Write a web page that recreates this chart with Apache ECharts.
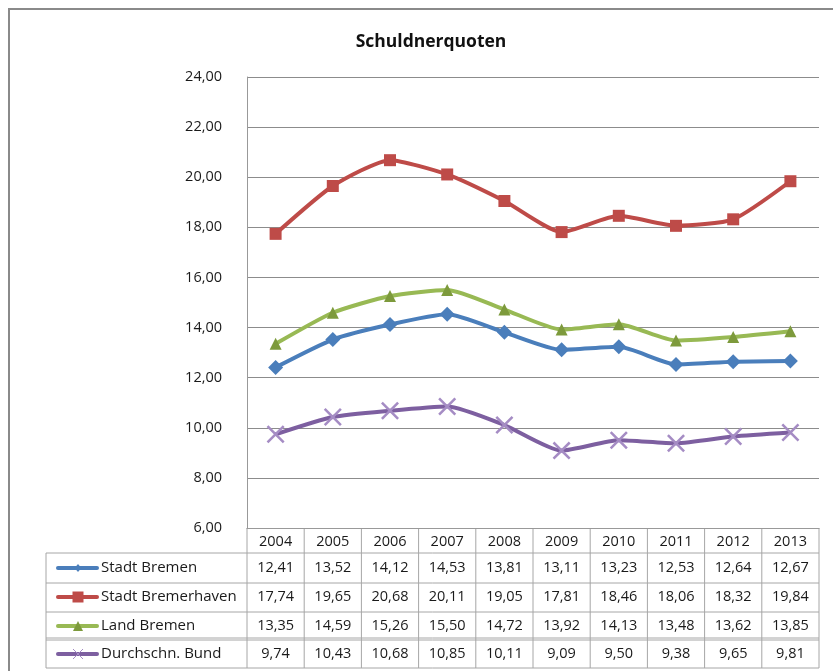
<!DOCTYPE html>
<html>
<head>
<meta charset="utf-8">
<script src="https://cdn.jsdelivr.net/npm/echarts@6/dist/echarts.min.js"></script>
<style>
  html, body { margin: 0; padding: 0; background: #fff; }
  #chart { width: 833px; height: 671px; }
</style>
</head>
<body>
<div id="chart"></div>
<script>
const years = ['2004', '2005', '2006', '2007', '2008', '2009', '2010', '2011', '2012', '2013']
const stadtBremen = [12.41, 13.52, 14.12, 14.53, 13.81, 13.11, 13.23, 12.53, 12.64, 12.67]
const stadtBremerhaven = [17.74, 19.65, 20.68, 20.11, 19.05, 17.81, 18.46, 18.06, 18.32, 19.84]
const landBremen = [13.35, 14.59, 15.26, 15.50, 14.72, 13.92, 14.13, 13.48, 13.62, 13.85]
const durchschnBund = [9.74, 10.43, 10.68, 10.85, 10.11, 9.09, 9.50, 9.38, 9.65, 9.81]

const FONT = '"Open Sans", "Noto Sans", sans-serif'
const crossPath = 'path://M0,1 L1,0 L5,4 L9,0 L10,1 L6,5 L10,9 L9,10 L5,6 L1,10 L0,9 L4,5 Z'

const seriesDefs = [
  { name: 'Stadt Bremen', data: stadtBremen, color: '#4a7ebb', symbol: 'diamond', size: 15, legSize: 8, symColor: '#4a7ebb' },
  { name: 'Stadt Bremerhaven', data: stadtBremerhaven, color: '#be4b48', symbol: 'rect', size: 12, legSize: 11, symColor: '#be4b48' },
  { name: 'Land Bremen', data: landBremen, color: '#98b954', symbol: 'triangle', size: 12, legSize: 10, symColor: '#7d9a3c' },
  { name: 'Durchschn. Bund', data: durchschnBund, color: '#7d5fa0', symbol: crossPath, size: 18, legSize: 10, symColor: '#a58cc4' }
]

const fmt = v => v.toFixed(2).replace('.', ',')

const chart = echarts.init(document.getElementById('chart'))

chart.setOption({
  animation: false,
  textStyle: { fontFamily: FONT },
  title: {
    text: 'Schuldnerquoten',
    left: 426,
    top: 28,
    textAlign: 'center',
    textStyle: { fontSize: 17.5, fontWeight: 'bold', color: '#111', fontFamily: FONT }
  },
  grid: { left: 247, right: 14, top: 77, bottom: 143 },
  xAxis: {
    type: 'category',
    data: years,
    boundaryGap: true,
    axisLine: { show: true, lineStyle: { color: '#999', width: 1 } },
    axisTick: { show: false },
    axisLabel: { show: false }
  },
  yAxis: {
    type: 'value',
    min: 6,
    max: 24,
    interval: 2,
    axisLine: { show: true, lineStyle: { color: '#999', width: 1 } },
    axisTick: { show: false },
    splitLine: { lineStyle: { color: '#8c8c8c', width: 1 } },
    axisLabel: {
      margin: 25,
      color: '#1a1a1a',
      fontSize: 14.5,
      fontFamily: FONT,
      formatter: v => fmt(v)
    }
  },
  series: seriesDefs.map(s => ({
    name: s.name,
    type: 'line',
    data: s.data,
    smooth: 0.2,
    symbol: s.symbol,
    symbolSize: s.size,
    showAllSymbol: true,
    lineStyle: { color: s.color, width: 4 },
    itemStyle: { color: s.symColor, borderWidth: 0 },
    z: 3
  }))
})

function drawTable () {
  const cx = years.map((y, i) => chart.convertToPixel({ xAxisIndex: 0 }, i))
  const band = cx[1] - cx[0]
  const left = cx[0] - band / 2
  const right = cx[cx.length - 1] + band / 2
  const top = chart.convertToPixel({ yAxisIndex: 0 }, 6)
  const tableLeft = 46
  const rowLines = [553, 583, 612, 640, 668]
  const rowCenters = [568, 597, 626, 654]
  const border = '#a6a6a6'
  const els = []

  // Rahmen um das ganze Diagramm
  els.push({ type: 'rect', shape: { x: 9, y: 9, width: 900, height: 800 }, style: { fill: null, stroke: '#8a8a8a', lineWidth: 2 }, z: 100 })

  // waagrechte Tabellenlinien
  rowLines.forEach((y, i) => {
    els.push({ type: 'line', shape: { x1: tableLeft, y1: y, x2: right, y2: y }, style: { stroke: border, lineWidth: 1 } })
    if (i === 3) {
      els.push({ type: 'line', shape: { x1: tableLeft, y1: y - 2, x2: right, y2: y - 2 }, style: { stroke: border, lineWidth: 1 } })
    }
  })
  // senkrechte Tabellenlinien
  els.push({ type: 'line', shape: { x1: tableLeft, y1: rowLines[0], x2: tableLeft, y2: rowLines[4] }, style: { stroke: border, lineWidth: 1 } })
  for (let i = 0; i <= years.length; i++) {
    const x = left + i * band
    els.push({ type: 'line', shape: { x1: x, y1: top, x2: x, y2: rowLines[4] }, style: { stroke: border, lineWidth: 1 } })
  }
  // Kopfzeile mit Jahren
  years.forEach((y, i) => {
    els.push({ type: 'text', x: cx[i], y: (top + rowLines[0]) / 2 + 1, style: { text: y, fill: '#1a1a1a', font: '14.5px ' + FONT, align: 'center', verticalAlign: 'middle' } })
  })
  // Datenzeilen
  seriesDefs.forEach((s, r) => {
    const yc = rowCenters[r]
    els.push({ type: 'line', shape: { x1: 58, y1: yc, x2: 97, y2: yc }, style: { stroke: s.color, lineWidth: 4, lineCap: 'round' } })
    els.push({ type: 'text', x: 101, y: yc, style: { text: s.name, fill: '#1a1a1a', font: '15px ' + FONT, align: 'left', verticalAlign: 'middle' } })
    s.data.forEach((v, i) => {
      els.push({ type: 'text', x: cx[i], y: yc, style: { text: fmt(v), fill: '#1a1a1a', font: '14.5px ' + FONT, align: 'center', verticalAlign: 'middle' } })
    })
    // Legendensymbol
    const sz = s.legSize
    if (s.symbol === 'diamond') {
      els.push({ type: 'polygon', shape: { points: [[78, yc - sz / 2], [78 + sz / 2.4, yc], [78, yc + sz / 2], [78 - sz / 2.4, yc]] }, style: { fill: s.symColor } })
    } else if (s.symbol === 'rect') {
      els.push({ type: 'rect', shape: { x: 78 - sz / 2, y: yc - sz / 2, width: sz, height: sz }, style: { fill: s.symColor } })
    } else if (s.symbol === 'triangle') {
      els.push({ type: 'polygon', shape: { points: [[78, yc - sz / 2], [78 + sz / 2, yc + sz / 2], [78 - sz / 2, yc + sz / 2]] }, style: { fill: s.symColor } })
    } else {
      els.push({ type: 'line', shape: { x1: 78 - sz / 2, y1: yc - sz / 2, x2: 78 + sz / 2, y2: yc + sz / 2 }, style: { stroke: s.symColor, lineWidth: 1 } })
      els.push({ type: 'line', shape: { x1: 78 - sz / 2, y1: yc + sz / 2, x2: 78 + sz / 2, y2: yc - sz / 2 }, style: { stroke: s.symColor, lineWidth: 1 } })
    }
  })
  chart.setOption({ graphic: { elements: els } })
}

drawTable()
</script>
</body>
</html>
